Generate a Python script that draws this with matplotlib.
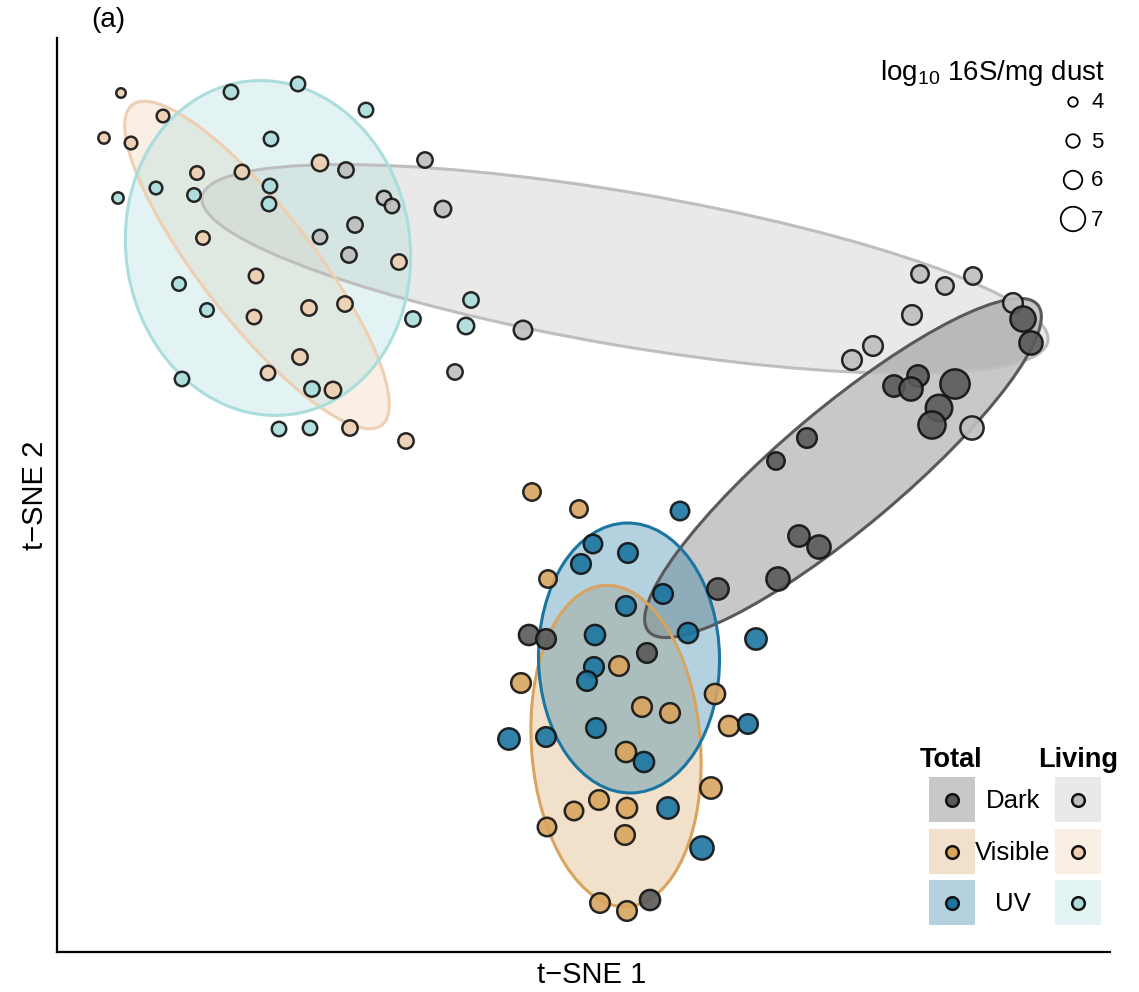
import matplotlib.pyplot as plt
from matplotlib.patches import Ellipse, Rectangle
import numpy as np

plt.rcParams['font.family'] = ['Liberation Sans', 'DejaVu Sans']
plt.rcParams['mathtext.fontset'] = 'custom'
plt.rcParams['mathtext.rm'] = 'Liberation Sans'
plt.rcParams['mathtext.default'] = 'regular'

# t-SNE coordinates and log10 16S/mg dust per sample
living_vis_x = [121, 163, 104, 131, 197, 242, 320, 203, 256, 399, 309, 345, 254, 300, 268, 333, 350, 406]
living_vis_y = [93, 116, 138, 143, 173, 172, 163, 238, 276, 262, 308, 304, 317, 357, 373, 390, 428, 441]
living_vis_s = [4.0, 4.8, 4.5, 4.8, 5.0, 5.2, 5.6, 5.0, 5.2, 5.4, 5.4, 5.4, 5.2, 5.4, 5.2, 5.6, 5.4, 5.4]

living_uv_x = [231, 298, 366, 271, 156, 118, 194, 270, 269, 179, 207, 471, 413, 466, 182, 312, 279, 310]
living_uv_y = [92, 84, 110, 139, 188, 198, 195, 186, 204, 284, 310, 300, 319, 326, 379, 389, 429, 428]
living_uv_s = [5.2, 5.2, 5.2, 5.2, 4.8, 4.5, 5.0, 5.2, 5.2, 5.0, 5.0, 5.4, 5.4, 5.6, 5.2, 5.4, 5.2, 5.2]

living_dark_x = [346, 425, 384, 392, 443, 355, 320, 349, 455, 523, 920, 945, 973, 912, 873, 852, 1013, 972]
living_dark_y = [170, 160, 198, 206, 209, 225, 237, 255, 372, 330, 274, 286, 276, 315, 346, 360, 303, 428]
living_dark_s = [5.4, 5.4, 5.2, 5.2, 5.6, 5.4, 5.2, 5.4, 5.4, 6.0, 5.8, 5.8, 5.8, 6.2, 6.2, 6.2, 6.2, 6.8]

total_dark_x = [1023, 1031, 918, 894, 911, 955, 939, 932, 807, 776, 799, 819, 778, 718, 647, 529, 546, 650]
total_dark_y = [319, 343, 376, 386, 389, 384, 408, 425, 438, 461, 536, 547, 579, 589, 653, 635, 639, 900]
total_dark_s = [7.1, 6.8, 6.5, 6.5, 6.8, 7.7, 7.3, 7.4, 6.2, 5.8, 6.5, 6.8, 6.8, 6.5, 6.2, 6.3, 6.2, 6.3]

total_vis_x = [532, 579, 548, 521, 619, 642, 670, 715, 729, 626, 599, 574, 627, 547, 625, 711, 600, 627]
total_vis_y = [492, 509, 579, 683, 666, 707, 713, 694, 726, 752, 800, 811, 808, 827, 835, 788, 903, 911]
total_vis_s = [5.8, 5.8, 5.8, 6.2, 6.2, 6.2, 6.2, 6.3, 6.3, 6.3, 6.2, 6.0, 6.3, 6.0, 6.2, 6.5, 6.2, 6.2]

total_uv_x = [680, 593, 628, 581, 663, 626, 595, 688, 756, 546, 509, 594, 587, 596, 748, 644, 668, 702]
total_uv_y = [511, 544, 553, 564, 594, 606, 635, 633, 639, 737, 739, 667, 681, 728, 724, 762, 808, 848]
total_uv_s = [6.0, 6.0, 6.2, 6.2, 6.2, 6.2, 6.3, 6.3, 6.5, 6.2, 6.5, 6.2, 6.2, 6.2, 6.2, 6.3, 6.5, 6.8]

# confidence ellipses: centre, full axes, angle (deg)
ell_cx = [625, 257, 268, 843, 616, 629]
ell_cy = [269, 265, 248, 468, 746, 658]
ell_w = [858, 406, 336, 508, 322, 270]
ell_h = [153, 112, 284, 120, 169, 181]
ell_ang = [9.7, 52.1, 81, -40, 85.7, 89]

colors = ['#BEBEBE', '#EECFB1', '#ABDDDC', '#595959', '#D8A45F', '#1B75A0']
xs = [living_dark_x, living_vis_x, living_uv_x, total_dark_x, total_vis_x, total_uv_x]
ys = [living_dark_y, living_vis_y, living_uv_y, total_dark_y, total_vis_y, total_uv_y]
ss = [living_dark_s, living_vis_s, living_uv_s, total_dark_s, total_vis_s, total_uv_s]

EDGE = 1.8


def msize(v):
    v = np.asarray(v)
    d = 0.5 * v ** 2 - 0.5 * v + 6  # outer diameter in px
    return (0.72 * d - EDGE) ** 2


fig = plt.figure(figsize=(11.39, 9.92), dpi=100)
ax = fig.add_axes([57 / 1139, 40 / 992, 1053 / 1139, 914 / 992])
ax.set_xlim(57, 1110)
ax.set_ylim(952, 38)

for i in range(6):
    ax.add_patch(Ellipse((ell_cx[i], ell_cy[i]), ell_w[i], ell_h[i], angle=ell_ang[i],
                         facecolor=colors[i], alpha=0.33, edgecolor='none', zorder=1))
    ax.add_patch(Ellipse((ell_cx[i], ell_cy[i]), ell_w[i], ell_h[i], angle=ell_ang[i],
                         facecolor='none', edgecolor=colors[i], lw=2.2, zorder=1.5))

for i in range(6):
    ax.scatter(xs[i], ys[i], s=msize(ss[i]), c=colors[i], edgecolors='#111111',
               linewidths=EDGE, alpha=0.9, zorder=3)

for sp in ['top', 'right']:
    ax.spines[sp].set_visible(False)
for sp in ['left', 'bottom']:
    ax.spines[sp].set_linewidth(1.6)
ax.set_xticks([])
ax.set_yticks([])

fig.text(592 / 1139, 1 - 975 / 992, 't\u2212SNE 1', fontsize=21, ha='center', va='center')
fig.text(35 / 1139, 1 - 495 / 992, 't\u2212SNE 2', fontsize=21, ha='center', va='center', rotation=90)
fig.text(108 / 1139, 1 - 20 / 992, '(a)', fontsize=20, ha='center', va='center')

# size legend
size_breaks = [4, 5, 6, 7]
size_y = [102, 141, 180, 219]
ax.text(1105, 73, r'log$_{10}$ 16S/mg dust', fontsize=20, ha='right', va='center')
ax.scatter([1073] * 4, size_y, s=msize(size_breaks), facecolors='white', edgecolors='black',
           linewidths=1.3, clip_on=False, zorder=5)
for yy, lab in zip(size_y, size_breaks):
    ax.text(1091, yy + 1, str(lab), fontsize=16, ha='left', va='center')

# colour legend
row_names = ['Dark', 'Visible', 'UV']
row_y = [800, 852, 903]
ax.text(951, 760, 'Total', fontsize=19.5, fontweight='bold', ha='center', va='center')
ax.text(1078, 760, 'Living', fontsize=19.5, fontweight='bold', ha='center', va='center')
for r in range(3):
    for col, cx in [(3 + r, 952), (r, 1078)]:
        ax.add_patch(Rectangle((cx - 23, row_y[r] - 23), 46, 45, facecolor=colors[col],
                               alpha=0.33, edgecolor='none', clip_on=False, zorder=4))
        ax.scatter([cx], [row_y[r]], s=msize(4.8), c=colors[col], edgecolors='#111111',
                   linewidths=EDGE, clip_on=False, zorder=5)
    ax.text(1013, row_y[r] + 1, row_names[r], fontsize=18.5, ha='center', va='center')

fig.savefig('out.png', dpi=100)
